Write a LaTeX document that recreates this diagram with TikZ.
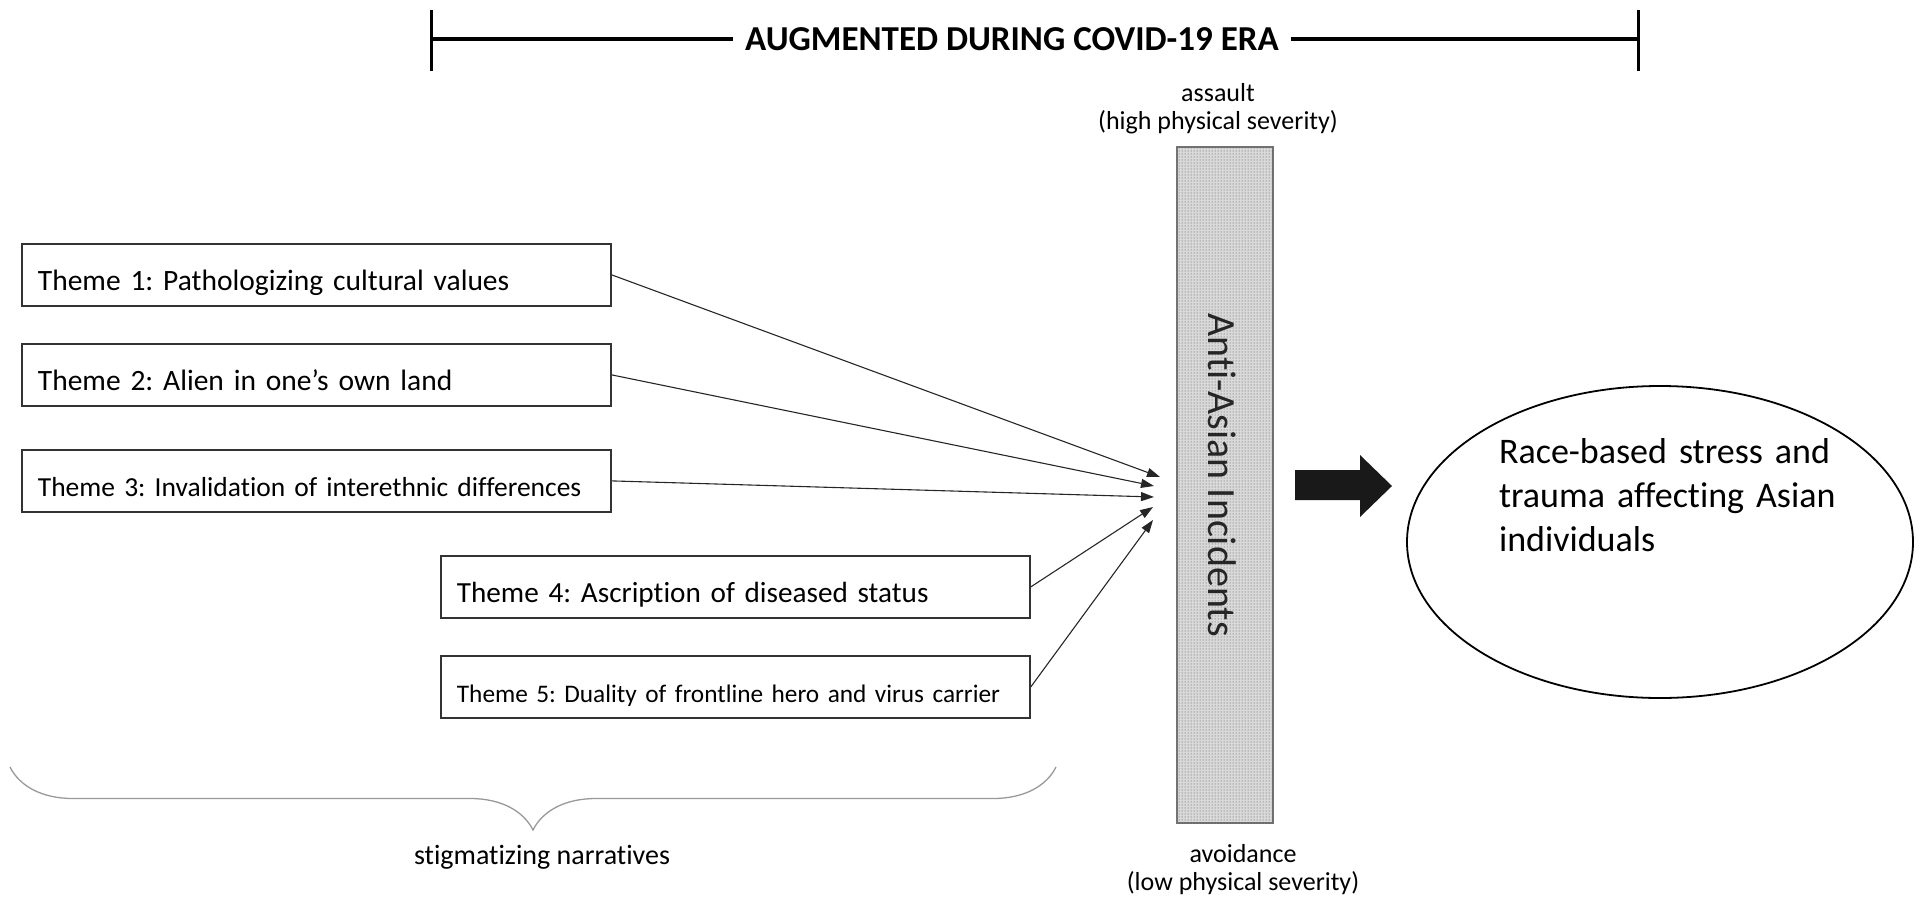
\documentclass[tikz,border=0pt]{standalone}
\usepackage{fontspec}
\setmainfont{Carlito}[Ligatures=NoCommon]
\frenchspacing
\usepackage{tikz}
\usetikzlibrary{arrows.meta, calc, patterns, shapes.geometric, decorations.pathreplacing, positioning}

\tikzset{
    theme/.style={draw=black!80, line width=1.8pt, anchor=north west, minimum width=589pt, text width=557pt, align=left, inner xsep=16pt, inner ysep=0pt, text height=47pt, text depth=15pt},
    push/.style={-{Triangle[length=13pt, width=9pt]}, line width=1.1pt, black!85},
    incidentbar/.style={draw=black!55, line width=2.5pt, fill=black!15, postaction={pattern=dots, pattern color=black!70}, minimum width=96pt, minimum height=676pt, inner sep=0pt},
    severity/.style={align=center, inner sep=0pt, font=\fontsize{26}{28}\selectfont},
}

\begin{document}
\begin{tikzpicture}[x=1pt, y=-1pt]
                        \useasboundingbox (0,0) rectangle (1920,913);
                        \node[font=\bfseries\fontsize{35}{40}\selectfont, inner xsep=12pt] (era) at (1012,39) {AUGMENTED DURING COVID-19 ERA};
                        \coordinate (eraL) at (431,39);
                        \coordinate (eraR) at (1638,39);
                        \draw[line width=4pt] (eraL) -- (era.west) (era.east) -- (eraR);
                        \draw[line width=3pt] ($(eraL)+(0,-29)$) -- ($(eraL)+(0,32)$) ($(eraR)+(0,-29)$) -- ($(eraR)+(0,32)$);

                        \node[theme, font=\fontsize{29.5}{36}\selectfont] (t1) at (21,243) {Theme 1: Pathologizing cultural values};
                        \node[theme, font=\fontsize{29.5}{36}\selectfont] (t2) at (21,343) {Theme 2: Alien in one’s own land};
                        \node[theme, font=\fontsize{27.5}{34}\selectfont] (t3) at (21,449) {Theme 3: Invalidation of interethnic differences};
                        \node[theme, font=\fontsize{29.2}{36}\selectfont] (t4) at (440,555) {Theme 4: Ascription of diseased status};
                        \node[theme, font=\fontsize{25.3}{32}\selectfont] (t5) at (440,655) {Theme 5: Duality of frontline hero and virus carrier};

                        \node[incidentbar] (bar) at (1225,485) {};
                        \node[rotate=-90, font=\fontsize{40}{48}\selectfont, text=black!85] (incidents) at (1222,475) {Anti-Asian Incidents};
                        \node[severity] (high) at (1218,109) {assault\\(high physical severity)};
                        \node[severity] (low) at (1243,870) {avoidance\\(low physical severity)};

                        \coordinate (tip1) at (1160,477);
                        \coordinate (tip2) at (1154,486);
                        \coordinate (tip3) at (1154,497);
                        \coordinate (tip4) at (1153,507);
                        \coordinate (tip5) at (1153,520);
                        \draw
                        (t1.east) edge[push] (tip1)
                        (t2.east) edge[push] (tip2)
                        (t3.east) edge[push] (tip3)
                        (t4.east) edge[push] (tip4)
                        (t5.east) edge[push] (tip5);

                        \coordinate (flow) at (1295,470);
                        \fill[black!90] (flow) -- ++(65,0) -- ++(0,-15) -- ++(32,31) -- ++(-32,31) -- ++(0,-17) -- ++(-65,0) -- cycle;

                        \node[draw, ellipse, line width=1.8pt, minimum width=506pt, minimum height=312pt, inner sep=0pt] (trauma) at (1660,542) {};
                        \node[align=left, text width=360pt, font=\fontsize{36}{44}\selectfont, inner sep=0pt] (traumatext) at (1679,495) {Race-based stress and\\trauma affecting Asian\\individuals};

                        \coordinate (braceR) at (1056,767);
                        \coordinate (braceL) at (10,767);
                        \draw[decorate, decoration={brace, amplitude=63pt}, black!40, line width=1.3pt] (braceR) -- (braceL);
                        \node[font=\fontsize{28}{32}\selectfont, anchor=base] (stigma) at (542,864) {stigmatizing narratives};
                    \end{tikzpicture}
\end{document}
